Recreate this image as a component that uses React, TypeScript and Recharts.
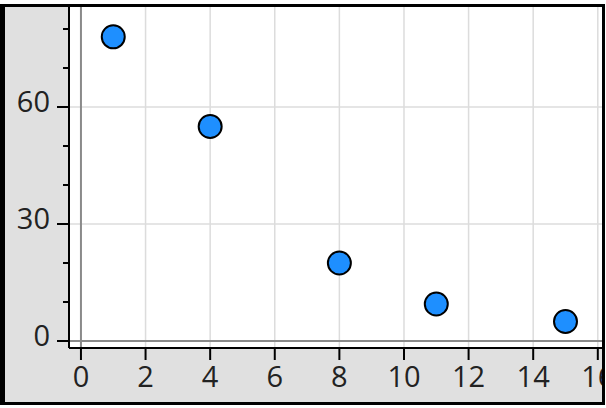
import React from 'react'
import { ScatterChart, Scatter, XAxis, YAxis, ReferenceLine, ReferenceArea } from 'recharts'

const xValues = [1, 4, 8, 11, 15]
const yValues = [78, 55, 20, 9.5, 5]
const xTicks = [0, 2, 4, 6, 8, 10, 12, 14, 16]
const yTicks = [0, 10, 20, 30, 40, 50, 60, 70, 80]
const yLabeled = [0, 30, 60]
const xGrid = [2, 4, 6, 8, 10, 12, 14, 16]
const yGrid = [30, 60]

const X_DOMAIN: [number, number] = [-0.37, 16.13]
const Y_DOMAIN: [number, number] = [-1.79, 85.64]

const FONT = '"Open Sans", sans-serif'

const points = xValues.map((x, i) => ({ x, y: yValues[i] }))

function YTick(props: any) {
  const { x, y, payload } = props
  const major = yLabeled.includes(payload.value)
  return (
    <g>
      <line x1={x} x2={x - (major ? 12 : 6)} y1={y} y2={y} stroke="#000" strokeWidth={2} />
      {major && (
        <text x={x - 19} y={y + 5} textAnchor="end" fontSize={29} fontFamily={FONT} fill="#222">
          {payload.value}
        </text>
      )}
    </g>
  )
}

function XTick(props: any) {
  const { x, y, payload } = props
  return (
    <g>
      <line x1={x} x2={x} y1={y} y2={y + 12} stroke="#000" strokeWidth={2} />
      <text x={x} y={y + 39} textAnchor="middle" fontSize={29} fontFamily={FONT} fill="#222">
        {payload.value}
      </text>
    </g>
  )
}

function Dot(props: any) {
  const { cx, cy } = props
  return <circle cx={cx} cy={cy} r={11.5} fill="#1e8fff" stroke="#000" strokeWidth={2} />
}

export default function App() {
  return (
    <div style={{ position: 'relative', width: 606, height: 408, background: '#fff' }}>
      <style>{'body{margin:0}'}</style>
      <div
        style={{
          position: 'absolute',
          left: 0,
          top: 4,
          width: 605,
          height: 401,
          boxSizing: 'border-box',
          borderStyle: 'solid',
          borderColor: '#000',
          borderWidth: '3px 3px 3px 5px',
          background: '#e0e0e0',
          overflow: 'hidden',
        }}
      >
        <ScatterChart width={597} height={395} margin={{ top: 0, right: 0, bottom: 0, left: 0 }}>
          <ReferenceArea
            x1={X_DOMAIN[0]}
            x2={X_DOMAIN[1]}
            y1={Y_DOMAIN[0]}
            y2={Y_DOMAIN[1]}
            fill="#fff"
            fillOpacity={1}
            stroke="none"
            ifOverflow="visible"
          />
          {xGrid.map((v) => (
            <ReferenceLine key={'x' + v} x={v} stroke="#dcdcdc" strokeWidth={1.5} />
          ))}
          {yGrid.map((v) => (
            <ReferenceLine key={'y' + v} y={v} stroke="#dcdcdc" strokeWidth={1.5} />
          ))}
          <ReferenceLine x={0} stroke="#8a8a8a" strokeWidth={2} />
          <ReferenceLine y={0} stroke="#8a8a8a" strokeWidth={2} />
          <XAxis
            type="number"
            dataKey="x"
            domain={X_DOMAIN}
            allowDataOverflow
            ticks={xTicks}
            interval={0}
            height={54}
            tickSize={0}
            tickMargin={0}
            axisLine={{ stroke: '#000', strokeWidth: 2 }}
            tick={<XTick />}
          />
          <YAxis
            type="number"
            dataKey="y"
            domain={Y_DOMAIN}
            allowDataOverflow
            ticks={yTicks}
            interval={0}
            width={64}
            tickSize={0}
            tickMargin={0}
            axisLine={{ stroke: '#000', strokeWidth: 2 }}
            tick={<YTick />}
          />
          <Scatter data={points} shape={<Dot />} isAnimationActive={false} />
        </ScatterChart>
      </div>
    </div>
  )
}
